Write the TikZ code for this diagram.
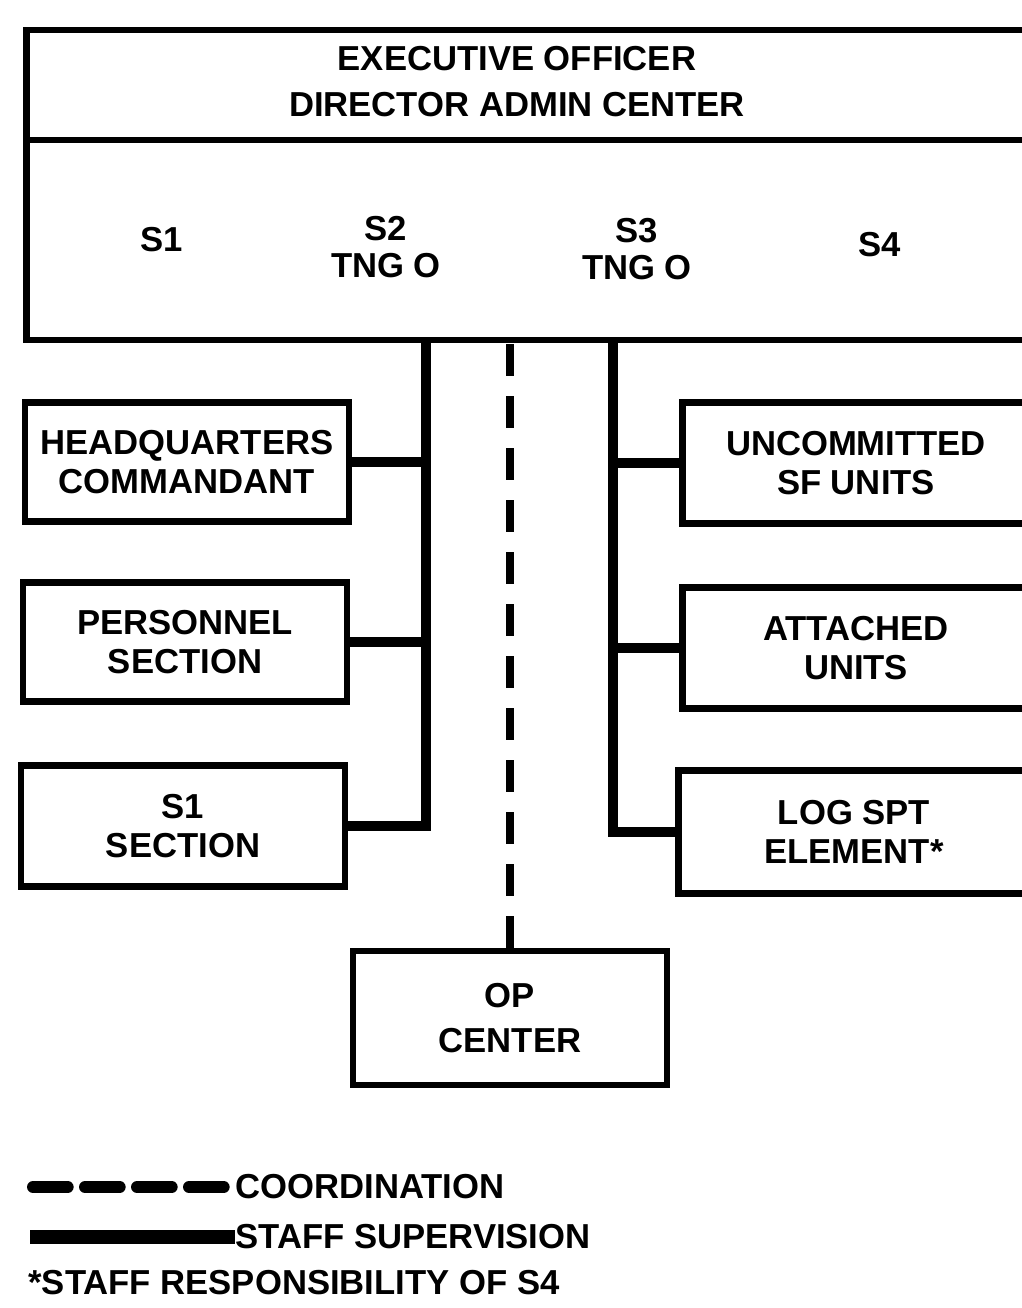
\documentclass[tikz,border=0pt]{standalone}
\usepackage{fontspec}
\setmainfont{Liberation Sans}
\newcommand{\chartfont}{\bfseries\fontsize{26}{29}\selectfont}
\tikzset{every picture/.style={line width=0.75pt}}
\tikzset{
  unitbox/.style={draw, line width=5pt, align=center, inner sep=0pt, font=\chartfont},
  chartlabel/.style={align=center, inner sep=0pt, font=\chartfont},
  supervision/.style={line width=7.5pt},
  coordination/.style={line width=6pt, dash pattern=on 24pt off 15pt},
}

\begin{document}
\begin{tikzpicture}[x=0.75pt,y=0.75pt,yscale=-1,xscale=1]
\useasboundingbox (0,0) rectangle (1021,1308);

%Shape: Rectangle [id:xo] 
\node [draw, line width=5pt, minimum width=757pt, minimum height=82.5pt, inner sep=0pt] (xo) at (531,85) {};
%Shape: Rectangle [id:staff] 
\node [draw, line width=5pt, minimum width=757pt, minimum height=150pt, inner sep=0pt] (staff) at (531,240) {};

% Text Node
\node [chartlabel, font={\bfseries\fontsize{26}{34.5}\selectfont}] (xotext) at (517,82) {EXECUTIVE OFFICER\\DIRECTOR ADMIN CENTER};
% Text Node
\node [chartlabel] (sone) at (162,240) {S1};
% Text Node
\node [chartlabel, font={\bfseries\fontsize{26}{28}\selectfont}] (stwo) at (386,247) {S2\\TNG O};
% Text Node
\node [chartlabel, font={\bfseries\fontsize{26}{28}\selectfont}] (sthree) at (637,249) {S3\\TNG O};
% Text Node
\node [chartlabel] (sfour) at (880,245) {S4};

%Shape: Rectangle [id:hq] 
\node [unitbox, minimum width=243pt, minimum height=89.25pt] (hq) at (187,462) {HEADQUARTERS\\COMMANDANT};
%Shape: Rectangle [id:pers] 
\node [unitbox, minimum width=243pt, minimum height=89.25pt] (pers) at (185,642) {PERSONNEL\\SECTION};
%Shape: Rectangle [id:sonesec] 
\node [unitbox, minimum width=243pt, minimum height=90.75pt] (sonesec) at (183,826) {S1\\SECTION};
%Shape: Rectangle [id:uncom] 
\node [unitbox, minimum width=260pt, minimum height=90.75pt] (uncom) at (856,463) {UNCOMMITTED\\SF UNITS};
%Shape: Rectangle [id:att] 
\node [unitbox, minimum width=260pt, minimum height=90.75pt] (att) at (856,648) {ATTACHED\\UNITS};
%Shape: Rectangle [id:log] 
\node [unitbox, minimum width=263pt, minimum height=92.25pt] (log) at (854,832) {LOG SPT\\ELEMENT*};
%Shape: Rectangle [id:op] 
\node [unitbox, minimum width=235.5pt, minimum height=100.5pt, font={\bfseries\fontsize{26}{34}\selectfont}] (op) at (510,1018) {OP\\CENTER};

%Straight Lines [id:leftbus] 
\coordinate (ltop) at (426,340);
\coordinate (lbot) at (426,826);
\draw [supervision] (ltop) -- (lbot) -- (sonesec.east);
\draw [supervision] (hq.east) -- (hq.east -| ltop);
\draw [supervision] (pers.east) -- (pers.east -| ltop);
%Straight Lines [id:rightbus] 
\coordinate (rtop) at (613,340);
\coordinate (rbot) at (613,832);
\draw [supervision] (rtop) -- (rbot) -- (log.west);
\draw [supervision] (uncom.west) -- (uncom.west -| rtop);
\draw [supervision] (att.west) -- (att.west -| rtop);
%Straight Lines [id:opline] 
\draw [coordination] (op.north) -- (op.north |- staff.south);

% Legend
\node [chartlabel, anchor=west] (coordlbl) at (235,1187) {COORDINATION};
\node [chartlabel, anchor=west] (suplbl) at (235,1237) {STAFF SUPERVISION};
\node [chartlabel, anchor=west] (notelbl) at (28,1283) {*STAFF RESPONSIBILITY OF S4};
\coordinate (coordstart) at (33,1187);
\coordinate (supstart) at (30,1237);
\draw [line width=9pt, line cap=round, dash pattern=on 26pt off 13pt] (coordstart) -- (coordlbl.west);
\draw [line width=10.5pt] (supstart) -- (suplbl.west);

\end{tikzpicture}
\end{document}
